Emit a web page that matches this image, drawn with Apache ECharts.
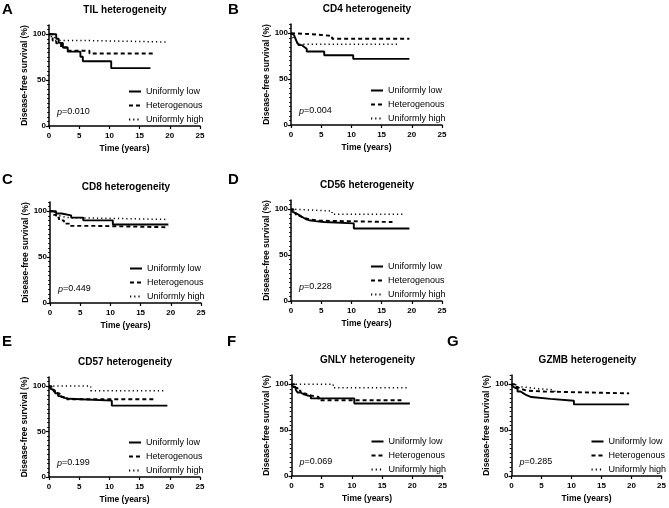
<!DOCTYPE html>
<html>
<head>
<meta charset="utf-8">
<script src="https://cdn.jsdelivr.net/npm/echarts@6/dist/echarts.min.js"></script>
<style>
html,body{margin:0;padding:0;background:#fff;}
#chart{width:669px;height:508px;}
</style>
</head>
<body>
<div id="chart"></div>
<script>
// ---------------- DATA ----------------
const xTicks = [0, 5, 10, 15, 20, 25];
const yTicks = [0, 50, 100];
const seriesNames = ['Uniformly low', 'Heterogenous', 'Uniformly high'];
const panelLetters = ['A', 'B', 'C', 'D', 'E', 'F', 'G'];
const panelTitles = ['TIL heterogeneity', 'CD4 heterogeneity', 'CD8 heterogeneity', 'CD56 heterogeneity',
  'CD57 heterogeneity', 'GNLY heterogeneity', 'GZMB heterogeneity'];
const pValues = ['0.010', '0.004', '0.449', '0.228', '0.199', '0.069', '0.285'];
const xAxisTitle = 'Time (years)';
const yAxisTitle = 'Disease-free survival (%)';

// A: TIL
const A_low_t = [0, 1.2, 1.6, 2.3, 3.1, 5.2, 5.6, 10.3, 16.8];
const A_low_s = [100, 95, 90.5, 85.5, 81, 75.5, 70.5, 63, 63];
const A_het_t = [0, 0.6, 1.2, 2.0, 3.0, 6.7, 17.5];
const A_het_s = [100, 93, 90, 85.5, 82, 79, 79];
const A_high_t = [0, 0.4, 1.0, 7.0, 19.3];
const A_high_s = [100, 96.5, 93, 91.5, 91.5];
// B: CD4
const B_low_t = [0, 0.2, 0.5, 0.8, 1.0, 1.3, 1.8, 2.2, 2.6, 5.5, 10.3, 19.6];
const B_low_s = [100, 98, 96, 93, 90, 87, 85, 83, 80, 76, 72, 72];
const B_het_t = [0, 0.3, 3.3, 6.8, 19.6];
const B_het_s = [100, 99, 97, 94, 94];
const B_high_t = [0, 0.2, 0.5, 1.0, 17.6];
const B_high_s = [100, 97, 93, 88, 88];
// C: CD8
const C_low_t = [0, 1.0, 1.9, 3.5, 5.5, 10.4, 19.6];
const C_low_s = [100, 97.5, 95.5, 93, 90, 85.5, 85.5];
const C_het_t = [0, 0.5, 1.0, 1.5, 2.3, 3.3, 7.5, 19.6];
const C_het_s = [100, 96, 93, 90, 86.5, 84, 82.5, 82.5];
const C_high_t = [0, 0.5, 1.0, 1.5, 3.0, 19.6];
const C_high_s = [100, 98, 95, 93, 91, 91];
// D: CD56
const D_low_t = [0, 0.3, 0.6, 1.0, 1.5, 2.0, 2.5, 3.0, 4.0, 5.4, 10.4, 19.6];
const D_low_s = [100, 97, 95, 93, 91, 89, 88, 87, 86, 84.5, 79, 79];
const D_het_t = [0, 0.4, 0.8, 1.3, 2.0, 3.0, 4.5, 16.8];
const D_het_s = [100, 96, 93, 91, 89, 87.5, 86, 86];
const D_high_t = [0, 0.3, 6.8, 18.7];
const D_high_s = [100, 98, 94.5, 94.5];
// E: CD57
const E_low_t = [0, 0.3, 0.6, 1.0, 1.5, 2.0, 2.5, 3.4, 10.4, 19.6];
const E_low_s = [100, 97, 95, 92, 89, 87, 86, 84, 78.5, 78.5];
const E_het_t = [0, 0.4, 0.8, 1.2, 2.0, 3.0, 17.7];
const E_het_s = [100, 96, 93, 91, 88, 85.5, 85.5];
const E_high_t = [0, 6.9, 19.4];
const E_high_s = [100, 95, 95];
// F: GNLY
const F_low_t = [0, 0.3, 0.7, 1.0, 1.5, 2.0, 2.5, 3.2, 10.4, 19.6];
const F_low_s = [100, 97, 94, 91, 89, 88, 87, 84.5, 79, 79];
const F_het_t = [0, 0.5, 1.0, 1.5, 2.2, 3.0, 4.5, 18.2];
const F_het_s = [100, 96, 93, 90, 88, 86, 82.5, 82.5];
const F_high_t = [0, 6.9, 19.3];
const F_high_s = [100, 96, 96];
// G: GZMB
const G_low_t = [0, 0.3, 0.6, 1.0, 1.5, 2.0, 2.5, 3.3, 6.5, 10.4, 19.6];
const G_low_s = [100, 97, 95, 92, 90, 88, 86, 84, 82, 78, 78];
const G_het_t = [0, 0.5, 1.0, 1.5, 2.5, 5.5, 19.6];
const G_het_s = [100, 97, 95, 93, 92, 90, 90];
const G_high_t = [0, 0.7, 2.0, 4.5, 6.8, 7.3];
const G_high_s = [100, 97, 95, 94, 92, 92];

const panelData = [
  [[A_low_t, A_low_s], [A_het_t, A_het_s], [A_high_t, A_high_s]],
  [[B_low_t, B_low_s], [B_het_t, B_het_s], [B_high_t, B_high_s]],
  [[C_low_t, C_low_s], [C_het_t, C_het_s], [C_high_t, C_high_s]],
  [[D_low_t, D_low_s], [D_het_t, D_het_s], [D_high_t, D_high_s]],
  [[E_low_t, E_low_s], [E_het_t, E_het_s], [E_high_t, E_high_s]],
  [[F_low_t, F_low_s], [F_het_t, F_het_s], [F_high_t, F_high_s]],
  [[G_low_t, G_low_s], [G_het_t, G_het_s], [G_high_t, G_high_s]]
];

// ---------------- LAYOUT / STYLE ----------------
const FONT = '"Liberation Sans", Arial, Helvetica, sans-serif';
const INK = '#000';
const PLOT_W = 151;
const layout = [
  { left: 49,    top: 25,  y0: 126 },
  { left: 291,   top: 24,  y0: 125 },
  { left: 50,    top: 202, y0: 303 },
  { left: 291,   top: 200, y0: 301 },
  { left: 49,    top: 377, y0: 477 },
  { left: 291.5, top: 375, y0: 476 },
  { left: 511.5, top: 375, y0: 476 }
];
const letterPos = [[2, 10], [228, 10], [2, 180], [228, 180], [2, 342], [227, 342], [447, 342]];
const lineStyles = [
  { color: INK, width: 1.9, type: 'solid' },
  { color: INK, width: 1.9, type: [4, 3] },
  { color: INK, width: 1.5, type: [1.2, 3] }
];

const grid = [], xAxis = [], yAxis = [], series = [], legend = [], title = [];

layout.forEach((L, i) => {
  const h = L.y0 - L.top;
  grid.push({ left: L.left, top: L.top, width: PLOT_W, height: h, containLabel: false });

  xAxis.push({
    type: 'value', gridIndex: i, min: xTicks[0], max: xTicks[xTicks.length - 1], interval: 5,
    name: xAxisTitle, nameLocation: 'middle', nameGap: 18,
    nameTextStyle: { fontFamily: FONT, fontSize: 8.5, fontWeight: 'bold', color: INK },
    axisLine: { show: true, onZero: false, lineStyle: { color: INK, width: 1.5 } },
    axisTick: { show: true, length: 3, lineStyle: { color: INK, width: 1.2 } },
    axisLabel: { margin: 6, fontFamily: FONT, fontSize: 8, fontWeight: 'bold', color: INK },
    splitLine: { show: false }
  });

  yAxis.push({
    type: 'value', gridIndex: i, position: 'left', min: 0, max: 110, interval: 50,
    name: yAxisTitle, nameLocation: 'middle', nameGap: 18,
    nameTextStyle: { fontFamily: FONT, fontSize: 8.5, fontWeight: 'bold', color: INK },
    axisLine: { show: true, onZero: false, lineStyle: { color: INK, width: 1.5 } },
    axisTick: { show: true, length: 3, customValues: yTicks, lineStyle: { color: INK, width: 1.2 } },
    axisLabel: { margin: 3, customValues: yTicks, fontFamily: FONT, fontSize: 8, fontWeight: 'bold', color: INK },
    splitLine: { show: false }
  });
  // minor ticks overlay
  yAxis.push({
    type: 'value', gridIndex: i, position: 'left', offset: 0, min: 0, max: 110, interval: 5,
    axisLine: { show: false },
    axisTick: { show: true, length: 1.8, lineStyle: { color: INK, width: 1 } },
    axisLabel: { show: false },
    splitLine: { show: false }
  });

  panelData[i].forEach((pair, k) => {
    const [t, s] = pair;
    series.push({
      name: seriesNames[k], type: 'line', step: 'end', symbol: 'none',
      xAxisIndex: i, yAxisIndex: 2 * i,
      data: t.map((v, j) => [v, s[j]]),
      lineStyle: lineStyles[k],
      itemStyle: { color: INK },
      silent: true, emphasis: { disabled: true }, z: 3 - k
    });
  });

  legend.push({
    orient: 'vertical', left: L.left + 79, top: L.y0 - 40, padding: 0,
    itemWidth: 12, itemHeight: 8, itemGap: 3,
    data: seriesNames,
    itemStyle: { color: 'rgba(0,0,0,0)', borderColor: 'rgba(0,0,0,0)', borderWidth: 0, opacity: 0 },
    textStyle: { fontFamily: FONT, fontSize: 9, color: INK, lineHeight: 11 },
    selectedMode: false
  });

  title.push({
    text: panelLetters[i], left: letterPos[i][0], top: letterPos[i][1], padding: 0,
    textVerticalAlign: 'middle',
    textStyle: { fontFamily: FONT, fontSize: 15, fontWeight: 'bold', color: INK }
  });
  title.push({
    text: panelTitles[i], left: L.left + 76, top: L.top - 15, padding: 0,
    textAlign: 'center', textVerticalAlign: 'middle',
    textStyle: { fontFamily: FONT, fontSize: 10, fontWeight: 'bold', color: INK }
  });
  title.push({
    text: '{i|p}{n|=' + pValues[i] + '}', left: L.left + 8, top: L.y0 - 14, padding: 0,
    textVerticalAlign: 'middle',
    textStyle: { fontFamily: FONT, fontSize: 9, fontWeight: 'normal', color: INK,
      rich: {
        i: { fontFamily: FONT, fontSize: 9, fontStyle: 'italic', fontWeight: 'normal', color: INK },
        n: { fontFamily: FONT, fontSize: 9, fontWeight: 'normal', color: INK }
      } }
  });
});

const chart = echarts.init(document.getElementById('chart'), null, { renderer: 'canvas' });
chart.setOption({
  backgroundColor: '#fff',
  animation: false,
  textStyle: { fontFamily: FONT },
  grid, xAxis, yAxis, series, legend, title
});
</script>
</body>
</html>
